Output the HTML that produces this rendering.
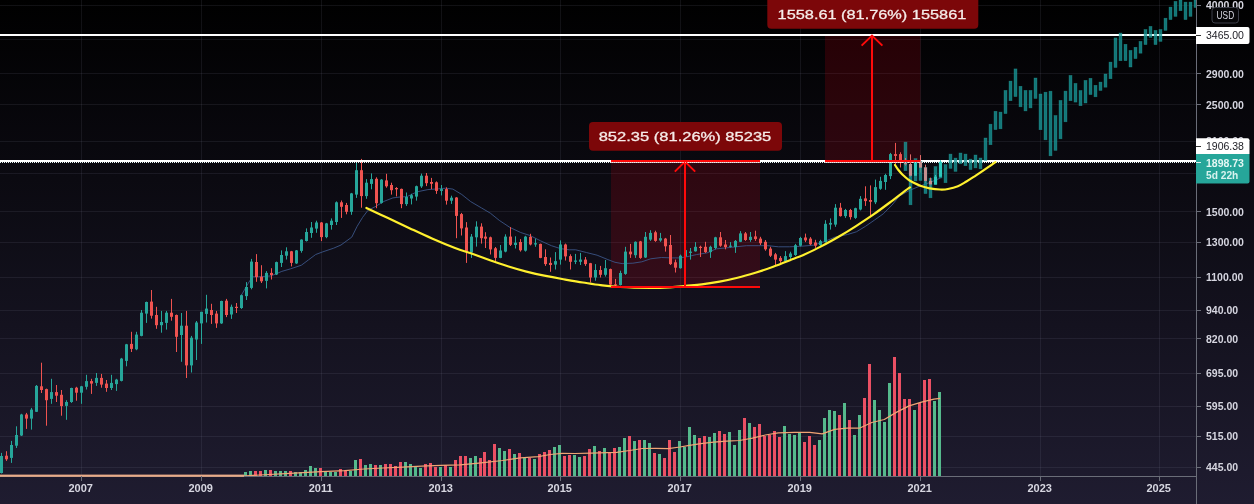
<!DOCTYPE html><html><head><meta charset="utf-8"><title>chart</title><style>html,body{margin:0;padding:0;background:#000;overflow:hidden}svg{display:block}svg{will-change:transform}</style></head><body><svg width="1254" height="504" viewBox="0 0 1254 504" font-family="Liberation Sans, sans-serif">
<defs><linearGradient id="bg" x1="0" y1="0" x2="0" y2="1"><stop offset="0" stop-color="#000000"/><stop offset="1" stop-color="#1f1c30"/></linearGradient><clipPath id="pane"><rect x="0" y="0" width="1196" height="476"/></clipPath></defs>
<rect width="1254" height="504" fill="url(#bg)"/>
<g fill="rgba(150,150,175,0.115)" shape-rendering="crispEdges">
<rect x="81" y="0" width="1" height="476"/>
<rect x="201" y="0" width="1" height="476"/>
<rect x="321" y="0" width="1" height="476"/>
<rect x="441" y="0" width="1" height="476"/>
<rect x="560" y="0" width="1" height="476"/>
<rect x="680" y="0" width="1" height="476"/>
<rect x="800" y="0" width="1" height="476"/>
<rect x="920" y="0" width="1" height="476"/>
<rect x="1040" y="0" width="1" height="476"/>
<rect x="1159" y="0" width="1" height="476"/>
<rect x="0" y="5" width="1196" height="1"/>
<rect x="0" y="39" width="1196" height="1"/>
<rect x="0" y="73" width="1196" height="1"/>
<rect x="0" y="104" width="1196" height="1"/>
<rect x="0" y="141" width="1196" height="1"/>
<rect x="0" y="173" width="1196" height="1"/>
<rect x="0" y="211" width="1196" height="1"/>
<rect x="0" y="242" width="1196" height="1"/>
<rect x="0" y="277" width="1196" height="1"/>
<rect x="0" y="310" width="1196" height="1"/>
<rect x="0" y="338" width="1196" height="1"/>
<rect x="0" y="373" width="1196" height="1"/>
<rect x="0" y="406" width="1196" height="1"/>
<rect x="0" y="436" width="1196" height="1"/>
<rect x="0" y="467" width="1196" height="1"/>
</g>
<g clip-path="url(#pane)">
<g shape-rendering="crispEdges">
<rect x="244" y="472.1" width="3" height="3.9" fill="#55b98c"/>
<rect x="249" y="470.8" width="3" height="5.2" fill="#55b98c"/>
<rect x="254" y="470.8" width="3" height="5.2" fill="#eb5064"/>
<rect x="259" y="470.8" width="3" height="5.2" fill="#eb5064"/>
<rect x="264" y="470.0" width="3" height="6.0" fill="#55b98c"/>
<rect x="269" y="470.0" width="3" height="6.0" fill="#eb5064"/>
<rect x="274" y="471.1" width="3" height="4.9" fill="#55b98c"/>
<rect x="279" y="470.8" width="3" height="5.2" fill="#55b98c"/>
<rect x="284" y="470.8" width="3" height="5.2" fill="#55b98c"/>
<rect x="289" y="470.8" width="3" height="5.2" fill="#eb5064"/>
<rect x="294" y="472.1" width="3" height="3.9" fill="#55b98c"/>
<rect x="299" y="472.1" width="3" height="3.9" fill="#55b98c"/>
<rect x="304" y="470.0" width="3" height="6.0" fill="#55b98c"/>
<rect x="309" y="465.8" width="3" height="10.2" fill="#55b98c"/>
<rect x="314" y="467.8" width="3" height="8.2" fill="#55b98c"/>
<rect x="319" y="467.8" width="3" height="8.2" fill="#eb5064"/>
<rect x="324" y="471.1" width="3" height="4.9" fill="#55b98c"/>
<rect x="329" y="471.6" width="3" height="4.4" fill="#55b98c"/>
<rect x="334" y="471.6" width="3" height="4.4" fill="#55b98c"/>
<rect x="339" y="469.0" width="3" height="7.0" fill="#eb5064"/>
<rect x="344" y="470.2" width="3" height="5.8" fill="#eb5064"/>
<rect x="349" y="470.6" width="3" height="5.4" fill="#55b98c"/>
<rect x="354" y="459.8" width="3" height="16.2" fill="#55b98c"/>
<rect x="359" y="458.9" width="3" height="17.1" fill="#eb5064"/>
<rect x="364" y="464.9" width="3" height="11.1" fill="#55b98c"/>
<rect x="369" y="463.9" width="3" height="12.1" fill="#55b98c"/>
<rect x="374" y="464.9" width="3" height="11.1" fill="#eb5064"/>
<rect x="379" y="464.9" width="3" height="11.1" fill="#55b98c"/>
<rect x="384" y="463.9" width="3" height="12.1" fill="#eb5064"/>
<rect x="389" y="463.9" width="3" height="12.1" fill="#eb5064"/>
<rect x="394" y="466.1" width="3" height="9.9" fill="#eb5064"/>
<rect x="399" y="461.8" width="3" height="14.2" fill="#eb5064"/>
<rect x="404" y="461.8" width="3" height="14.2" fill="#55b98c"/>
<rect x="409" y="463.9" width="3" height="12.1" fill="#55b98c"/>
<rect x="414" y="466.6" width="3" height="9.4" fill="#55b98c"/>
<rect x="419" y="468.0" width="3" height="8.0" fill="#55b98c"/>
<rect x="424" y="463.9" width="3" height="12.1" fill="#eb5064"/>
<rect x="429" y="462.9" width="3" height="13.1" fill="#eb5064"/>
<rect x="434" y="466.9" width="3" height="9.1" fill="#eb5064"/>
<rect x="439" y="466.9" width="3" height="9.1" fill="#55b98c"/>
<rect x="444" y="464.9" width="3" height="11.1" fill="#eb5064"/>
<rect x="449" y="466.9" width="3" height="9.1" fill="#55b98c"/>
<rect x="454" y="460.0" width="3" height="16.0" fill="#eb5064"/>
<rect x="459" y="456.0" width="3" height="20.0" fill="#eb5064"/>
<rect x="464" y="456.0" width="3" height="20.0" fill="#eb5064"/>
<rect x="469" y="458.1" width="3" height="17.9" fill="#55b98c"/>
<rect x="474" y="456.1" width="3" height="19.9" fill="#55b98c"/>
<rect x="479" y="458.1" width="3" height="17.9" fill="#eb5064"/>
<rect x="483" y="452.1" width="3" height="23.9" fill="#eb5064"/>
<rect x="488" y="460.2" width="3" height="15.8" fill="#eb5064"/>
<rect x="493" y="444.2" width="3" height="31.8" fill="#eb5064"/>
<rect x="498" y="448.2" width="3" height="27.8" fill="#55b98c"/>
<rect x="503" y="451.0" width="3" height="25.0" fill="#55b98c"/>
<rect x="508" y="449.2" width="3" height="26.8" fill="#eb5064"/>
<rect x="513" y="454.2" width="3" height="21.8" fill="#55b98c"/>
<rect x="518" y="453.3" width="3" height="22.7" fill="#eb5064"/>
<rect x="523" y="457.5" width="3" height="18.5" fill="#55b98c"/>
<rect x="528" y="457.5" width="3" height="18.5" fill="#eb5064"/>
<rect x="533" y="459.0" width="3" height="17.0" fill="#55b98c"/>
<rect x="538" y="454.2" width="3" height="21.8" fill="#eb5064"/>
<rect x="543" y="452.1" width="3" height="23.9" fill="#eb5064"/>
<rect x="548" y="450.1" width="3" height="25.9" fill="#eb5064"/>
<rect x="553" y="447.1" width="3" height="28.9" fill="#55b98c"/>
<rect x="558" y="445.2" width="3" height="30.8" fill="#55b98c"/>
<rect x="563" y="456.0" width="3" height="20.0" fill="#eb5064"/>
<rect x="568" y="455.0" width="3" height="21.0" fill="#eb5064"/>
<rect x="573" y="455.0" width="3" height="21.0" fill="#55b98c"/>
<rect x="578" y="456.9" width="3" height="19.1" fill="#55b98c"/>
<rect x="583" y="456.0" width="3" height="20.0" fill="#eb5064"/>
<rect x="588" y="448.9" width="3" height="27.1" fill="#eb5064"/>
<rect x="593" y="446.0" width="3" height="30.0" fill="#55b98c"/>
<rect x="598" y="451.1" width="3" height="24.9" fill="#eb5064"/>
<rect x="603" y="447.9" width="3" height="28.1" fill="#55b98c"/>
<rect x="608" y="452.0" width="3" height="24.0" fill="#eb5064"/>
<rect x="613" y="447.9" width="3" height="28.1" fill="#eb5064"/>
<rect x="618" y="447.0" width="3" height="29.0" fill="#55b98c"/>
<rect x="623" y="438.0" width="3" height="38.0" fill="#55b98c"/>
<rect x="628" y="436.0" width="3" height="40.0" fill="#eb5064"/>
<rect x="633" y="441.1" width="3" height="34.9" fill="#55b98c"/>
<rect x="638" y="440.2" width="3" height="35.8" fill="#eb5064"/>
<rect x="643" y="440.2" width="3" height="35.8" fill="#55b98c"/>
<rect x="648" y="443.0" width="3" height="33.0" fill="#55b98c"/>
<rect x="653" y="453.1" width="3" height="22.9" fill="#eb5064"/>
<rect x="658" y="454.1" width="3" height="21.9" fill="#55b98c"/>
<rect x="663" y="458.0" width="3" height="18.0" fill="#eb5064"/>
<rect x="668" y="440.2" width="3" height="35.8" fill="#eb5064"/>
<rect x="673" y="452.0" width="3" height="24.0" fill="#eb5064"/>
<rect x="678" y="441.1" width="3" height="34.9" fill="#55b98c"/>
<rect x="683" y="447.0" width="3" height="29.0" fill="#55b98c"/>
<rect x="688" y="427.0" width="3" height="49.0" fill="#55b98c"/>
<rect x="693" y="435.0" width="3" height="41.0" fill="#55b98c"/>
<rect x="698" y="438.0" width="3" height="38.0" fill="#eb5064"/>
<rect x="703" y="436.0" width="3" height="40.0" fill="#eb5064"/>
<rect x="708" y="436.9" width="3" height="39.1" fill="#55b98c"/>
<rect x="713" y="433.1" width="3" height="42.9" fill="#55b98c"/>
<rect x="718" y="431.1" width="3" height="44.9" fill="#eb5064"/>
<rect x="723" y="434.1" width="3" height="41.9" fill="#eb5064"/>
<rect x="728" y="432.0" width="3" height="44.0" fill="#55b98c"/>
<rect x="733" y="445.1" width="3" height="30.9" fill="#55b98c"/>
<rect x="738" y="430.1" width="3" height="45.9" fill="#55b98c"/>
<rect x="743" y="417.8" width="3" height="58.2" fill="#eb5064"/>
<rect x="748" y="423.0" width="3" height="53.0" fill="#55b98c"/>
<rect x="753" y="427.0" width="3" height="49.0" fill="#eb5064"/>
<rect x="758" y="424.0" width="3" height="52.0" fill="#eb5064"/>
<rect x="763" y="436.0" width="3" height="40.0" fill="#eb5064"/>
<rect x="768" y="435.0" width="3" height="41.0" fill="#eb5064"/>
<rect x="773" y="431.1" width="3" height="44.9" fill="#eb5064"/>
<rect x="778" y="436.9" width="3" height="39.1" fill="#eb5064"/>
<rect x="783" y="426.0" width="3" height="50.0" fill="#55b98c"/>
<rect x="788" y="434.2" width="3" height="41.8" fill="#55b98c"/>
<rect x="793" y="435.0" width="3" height="41.0" fill="#55b98c"/>
<rect x="798" y="433.2" width="3" height="42.8" fill="#55b98c"/>
<rect x="803" y="442.3" width="3" height="33.7" fill="#eb5064"/>
<rect x="808" y="436.4" width="3" height="39.6" fill="#eb5064"/>
<rect x="813" y="445.1" width="3" height="30.9" fill="#eb5064"/>
<rect x="818" y="440.1" width="3" height="35.9" fill="#55b98c"/>
<rect x="823" y="418.3" width="3" height="57.7" fill="#55b98c"/>
<rect x="828" y="410.1" width="3" height="65.9" fill="#55b98c"/>
<rect x="833" y="411.3" width="3" height="64.7" fill="#55b98c"/>
<rect x="838" y="415.0" width="3" height="61.0" fill="#eb5064"/>
<rect x="843" y="402.9" width="3" height="73.1" fill="#55b98c"/>
<rect x="848" y="420.0" width="3" height="56.0" fill="#eb5064"/>
<rect x="853" y="434.9" width="3" height="41.1" fill="#55b98c"/>
<rect x="858" y="415.0" width="3" height="61.0" fill="#55b98c"/>
<rect x="863" y="397.9" width="3" height="78.1" fill="#eb5064"/>
<rect x="868" y="364.2" width="3" height="111.8" fill="#eb5064"/>
<rect x="873" y="400.2" width="3" height="75.8" fill="#55b98c"/>
<rect x="878" y="410.1" width="3" height="65.9" fill="#55b98c"/>
<rect x="883" y="422.0" width="3" height="54.0" fill="#55b98c"/>
<rect x="888" y="383.0" width="3" height="93.0" fill="#55b98c"/>
<rect x="893" y="357.0" width="3" height="119.0" fill="#eb5064"/>
<rect x="898" y="372.9" width="3" height="103.1" fill="#eb5064"/>
<rect x="903" y="399.2" width="3" height="76.8" fill="#eb5064"/>
<rect x="908" y="399.2" width="3" height="76.8" fill="#eb5064"/>
<rect x="913" y="410.1" width="3" height="65.9" fill="#55b98c"/>
<rect x="918" y="403.4" width="3" height="72.6" fill="#eb5064"/>
<rect x="923" y="379.8" width="3" height="96.2" fill="#eb5064"/>
<rect x="928" y="379.1" width="3" height="96.9" fill="#eb5064"/>
<rect x="933" y="400.9" width="3" height="75.1" fill="#55b98c"/>
<rect x="938" y="392.2" width="3" height="83.8" fill="#55b98c"/>
</g>
<polyline fill="none" stroke="#f0a474" stroke-width="1.25" stroke-linejoin="round" points="0,476 243,476 260,475 290,473.3 321,471.6 345,470.7 364,469 383,468 402.4,467.1 421.6,466.1 440.7,465.4 460,464.9 478.8,463.1 502.6,460.5 520.5,457.9 538.3,456.7 550.2,454.5 562.1,453.4 575,453.5 590.8,453.1 616.6,452.4 629.5,450.5 642.4,448.5 655.3,448.3 668.2,448.6 680,447 687.9,445.7 700.8,443.6 713.7,442.1 726.6,441.1 739.5,440.5 752.4,438.2 765.3,435 778.2,432.8 795,432.4 809.8,432.4 822.2,433.9 834.6,429.4 847,428.2 859.4,428.2 871.8,422.5 884.3,419.5 896.7,412.1 909.1,405.9 921.5,402.1 933.9,399.2 940.1,398.4"/>
<rect x="611" y="161" width="149" height="126" fill="rgba(255,0,20,0.145)"/>
<rect x="825" y="35" width="95.5" height="126" fill="rgba(255,0,20,0.145)"/>
<polyline fill="none" stroke="#3b5486" stroke-width="1" stroke-opacity="0.9" stroke-linejoin="round" points="240.7,296.4 247.9,283.9 252.3,276.8 258.6,276.8 271.1,275.9 281.8,271.4 290.7,268.8 301.4,265.2 308.6,259.8 315.7,254.5 322.9,251.8 333.6,248.2 341,245 351.8,237.1 357.1,226.4 362.5,217.5 367.9,210.4 375,206.8 383.9,201.4 392.9,197.9 400,197 407,196.6 417.1,191.8 427.9,189.6 438.6,188.8 445.7,188.2 452.9,189.1 461.8,194.5 470.7,201.6 481.4,207.9 490.4,213.2 499.3,220.4 510,227.5 520.7,232.5 530,235.5 540.7,240.9 551.4,245.7 560.4,248.6 569.3,249.8 575.7,249.8 586.4,252.5 597.1,255.2 607.9,259.6 615,262.3 622.1,263.6 632.9,263.2 641.8,261.8 650.7,258.8 661.4,257.5 672.1,257.9 679.3,257.9 685.7,257 696.4,254.6 707.1,252.9 716.1,248.9 725,248 735.7,246.8 746.4,245.7 758.9,245.7 767.9,245.7 778.6,246.8 789.3,246.8 799.3,246.4 813.6,245.2 824.3,241.6 835,237.1 847.5,234.5 856.4,231.8 865.4,226.4 874.3,220.2 883.2,213.9 892.1,205 899.3,196.1 909,190.6 920,186 929.6,182.6 940.7,177.9"/>
<g>
<rect x="1" y="452.9" width="1" height="20.6" fill="#26a69a"/>
<rect x="0" y="456.0" width="3" height="17.0" fill="#26a69a"/>
<rect x="6" y="451.2" width="1" height="9.7" fill="#ef5350"/>
<rect x="5" y="455.7" width="3" height="3.6" fill="#ef5350"/>
<rect x="11" y="440.9" width="1" height="22.0" fill="#26a69a"/>
<rect x="10" y="445.0" width="3" height="12.9" fill="#26a69a"/>
<rect x="16" y="426.3" width="1" height="21.7" fill="#26a69a"/>
<rect x="15" y="435.0" width="3" height="10.7" fill="#26a69a"/>
<rect x="21" y="413.8" width="1" height="22.2" fill="#26a69a"/>
<rect x="20" y="414.5" width="3" height="21.0" fill="#26a69a"/>
<rect x="26" y="412.9" width="1" height="16.0" fill="#ef5350"/>
<rect x="25" y="414.5" width="3" height="4.1" fill="#ef5350"/>
<rect x="31" y="407.9" width="1" height="21.7" fill="#26a69a"/>
<rect x="30" y="409.6" width="3" height="9.0" fill="#26a69a"/>
<rect x="36" y="385.0" width="1" height="27.0" fill="#26a69a"/>
<rect x="35" y="385.9" width="3" height="25.9" fill="#26a69a"/>
<rect x="41" y="362.7" width="1" height="30.3" fill="#ef5350"/>
<rect x="40" y="386.3" width="3" height="3.7" fill="#ef5350"/>
<rect x="46" y="388.6" width="1" height="37.1" fill="#ef5350"/>
<rect x="45" y="389.1" width="3" height="11.1" fill="#ef5350"/>
<rect x="51" y="378.8" width="1" height="25.0" fill="#26a69a"/>
<rect x="50" y="392.1" width="3" height="6.8" fill="#26a69a"/>
<rect x="56" y="385.0" width="1" height="17.0" fill="#ef5350"/>
<rect x="55" y="392.1" width="3" height="3.6" fill="#ef5350"/>
<rect x="61" y="390.0" width="1" height="25.7" fill="#ef5350"/>
<rect x="60" y="394.8" width="3" height="11.3" fill="#ef5350"/>
<rect x="66" y="400.2" width="1" height="19.6" fill="#26a69a"/>
<rect x="65" y="402.0" width="3" height="3.9" fill="#26a69a"/>
<rect x="71" y="387.7" width="1" height="15.2" fill="#26a69a"/>
<rect x="70" y="388.0" width="3" height="14.0" fill="#26a69a"/>
<rect x="76" y="386.8" width="1" height="13.9" fill="#ef5350"/>
<rect x="75" y="387.7" width="3" height="5.0" fill="#ef5350"/>
<rect x="81" y="385.9" width="1" height="17.9" fill="#26a69a"/>
<rect x="80" y="386.3" width="3" height="6.4" fill="#26a69a"/>
<rect x="86" y="374.8" width="1" height="14.7" fill="#26a69a"/>
<rect x="85" y="381.1" width="3" height="5.7" fill="#26a69a"/>
<rect x="91" y="378.8" width="1" height="15.1" fill="#ef5350"/>
<rect x="90" y="381.1" width="3" height="2.5" fill="#ef5350"/>
<rect x="96" y="373.0" width="1" height="12.9" fill="#26a69a"/>
<rect x="95" y="377.9" width="3" height="5.0" fill="#26a69a"/>
<rect x="101" y="373.9" width="1" height="13.8" fill="#ef5350"/>
<rect x="100" y="377.9" width="3" height="6.7" fill="#ef5350"/>
<rect x="106" y="380.0" width="1" height="11.8" fill="#ef5350"/>
<rect x="105" y="383.6" width="3" height="4.4" fill="#ef5350"/>
<rect x="111" y="374.8" width="1" height="15.2" fill="#26a69a"/>
<rect x="110" y="382.9" width="3" height="5.1" fill="#26a69a"/>
<rect x="116" y="378.8" width="1" height="12.1" fill="#26a69a"/>
<rect x="115" y="379.6" width="3" height="4.5" fill="#26a69a"/>
<rect x="121" y="357.9" width="1" height="23.5" fill="#26a69a"/>
<rect x="120" y="358.6" width="3" height="22.3" fill="#26a69a"/>
<rect x="126" y="343.9" width="1" height="22.4" fill="#26a69a"/>
<rect x="125" y="344.3" width="3" height="16.6" fill="#26a69a"/>
<rect x="131" y="331.8" width="1" height="20.2" fill="#ef5350"/>
<rect x="130" y="343.9" width="3" height="5.0" fill="#ef5350"/>
<rect x="136" y="331.8" width="1" height="18.4" fill="#26a69a"/>
<rect x="135" y="334.6" width="3" height="14.7" fill="#26a69a"/>
<rect x="141" y="310.0" width="1" height="26.3" fill="#26a69a"/>
<rect x="140" y="312.7" width="3" height="23.2" fill="#26a69a"/>
<rect x="146" y="301.6" width="1" height="21.3" fill="#26a69a"/>
<rect x="145" y="302.0" width="3" height="11.6" fill="#26a69a"/>
<rect x="151" y="290.0" width="1" height="28.6" fill="#ef5350"/>
<rect x="150" y="301.6" width="3" height="14.1" fill="#ef5350"/>
<rect x="156" y="306.8" width="1" height="22.0" fill="#ef5350"/>
<rect x="155" y="315.0" width="3" height="10.2" fill="#ef5350"/>
<rect x="161" y="310.9" width="1" height="21.8" fill="#26a69a"/>
<rect x="160" y="322.0" width="3" height="3.2" fill="#26a69a"/>
<rect x="166" y="310.9" width="1" height="18.7" fill="#26a69a"/>
<rect x="165" y="312.7" width="3" height="10.2" fill="#26a69a"/>
<rect x="171" y="298.9" width="1" height="21.8" fill="#ef5350"/>
<rect x="170" y="312.7" width="3" height="4.1" fill="#ef5350"/>
<rect x="176" y="314.5" width="1" height="37.5" fill="#ef5350"/>
<rect x="175" y="315.0" width="3" height="21.8" fill="#ef5350"/>
<rect x="181" y="313.0" width="1" height="48.8" fill="#26a69a"/>
<rect x="180" y="325.7" width="3" height="9.3" fill="#26a69a"/>
<rect x="186" y="310.9" width="1" height="67.1" fill="#ef5350"/>
<rect x="185" y="325.7" width="3" height="39.7" fill="#ef5350"/>
<rect x="191" y="335.9" width="1" height="36.6" fill="#26a69a"/>
<rect x="190" y="337.7" width="3" height="27.7" fill="#26a69a"/>
<rect x="196" y="321.0" width="1" height="39.0" fill="#26a69a"/>
<rect x="195" y="322.5" width="3" height="17.0" fill="#26a69a"/>
<rect x="201" y="311.8" width="1" height="32.1" fill="#26a69a"/>
<rect x="200" y="311.8" width="3" height="11.6" fill="#26a69a"/>
<rect x="206" y="294.8" width="1" height="27.7" fill="#26a69a"/>
<rect x="205" y="308.6" width="3" height="5.3" fill="#26a69a"/>
<rect x="211" y="303.8" width="1" height="20.1" fill="#ef5350"/>
<rect x="210" y="310.0" width="3" height="5.0" fill="#ef5350"/>
<rect x="216" y="310.9" width="1" height="17.0" fill="#ef5350"/>
<rect x="215" y="313.6" width="3" height="9.8" fill="#ef5350"/>
<rect x="221" y="300.7" width="1" height="23.2" fill="#26a69a"/>
<rect x="220" y="301.0" width="3" height="22.4" fill="#26a69a"/>
<rect x="226" y="298.9" width="1" height="18.2" fill="#ef5350"/>
<rect x="225" y="300.7" width="3" height="14.3" fill="#ef5350"/>
<rect x="231" y="304.6" width="1" height="14.3" fill="#26a69a"/>
<rect x="230" y="306.8" width="3" height="7.7" fill="#26a69a"/>
<rect x="236" y="303.0" width="1" height="10.0" fill="#ef5350"/>
<rect x="235" y="306.8" width="3" height="1.2" fill="#ef5350"/>
<rect x="241" y="294.6" width="1" height="14.3" fill="#26a69a"/>
<rect x="240" y="295.2" width="3" height="12.8" fill="#26a69a"/>
<rect x="246" y="282.1" width="1" height="17.9" fill="#26a69a"/>
<rect x="245" y="287.0" width="3" height="9.1" fill="#26a69a"/>
<rect x="251" y="258.9" width="1" height="30.4" fill="#26a69a"/>
<rect x="250" y="261.6" width="3" height="26.3" fill="#26a69a"/>
<rect x="256" y="254.1" width="1" height="27.7" fill="#ef5350"/>
<rect x="255" y="262.0" width="3" height="15.1" fill="#ef5350"/>
<rect x="261" y="265.2" width="1" height="17.8" fill="#ef5350"/>
<rect x="260" y="276.8" width="3" height="4.5" fill="#ef5350"/>
<rect x="266" y="271.1" width="1" height="17.3" fill="#26a69a"/>
<rect x="265" y="272.9" width="3" height="8.0" fill="#26a69a"/>
<rect x="271" y="268.2" width="1" height="11.3" fill="#ef5350"/>
<rect x="270" y="272.9" width="3" height="2.1" fill="#ef5350"/>
<rect x="276" y="261.6" width="1" height="13.4" fill="#26a69a"/>
<rect x="275" y="262.1" width="3" height="12.4" fill="#26a69a"/>
<rect x="281" y="250.4" width="1" height="16.6" fill="#26a69a"/>
<rect x="280" y="255.0" width="3" height="7.9" fill="#26a69a"/>
<rect x="286" y="247.3" width="1" height="12.2" fill="#26a69a"/>
<rect x="285" y="251.3" width="3" height="4.4" fill="#26a69a"/>
<rect x="291" y="250.9" width="1" height="15.5" fill="#ef5350"/>
<rect x="290" y="251.3" width="3" height="11.6" fill="#ef5350"/>
<rect x="296" y="250.0" width="1" height="13.9" fill="#26a69a"/>
<rect x="295" y="250.4" width="3" height="13.0" fill="#26a69a"/>
<rect x="301" y="239.3" width="1" height="13.4" fill="#26a69a"/>
<rect x="300" y="239.6" width="3" height="11.3" fill="#26a69a"/>
<rect x="306" y="228.4" width="1" height="13.1" fill="#26a69a"/>
<rect x="305" y="232.0" width="3" height="9.0" fill="#26a69a"/>
<rect x="311" y="222.0" width="1" height="15.8" fill="#26a69a"/>
<rect x="310" y="227.5" width="3" height="5.5" fill="#26a69a"/>
<rect x="316" y="220.7" width="1" height="12.1" fill="#26a69a"/>
<rect x="315" y="222.5" width="3" height="6.1" fill="#26a69a"/>
<rect x="321" y="222.0" width="1" height="19.1" fill="#ef5350"/>
<rect x="320" y="222.5" width="3" height="14.6" fill="#ef5350"/>
<rect x="326" y="222.9" width="1" height="15.3" fill="#26a69a"/>
<rect x="325" y="223.4" width="3" height="13.7" fill="#26a69a"/>
<rect x="331" y="218.4" width="1" height="11.2" fill="#26a69a"/>
<rect x="330" y="220.7" width="3" height="4.3" fill="#26a69a"/>
<rect x="336" y="201.4" width="1" height="23.6" fill="#26a69a"/>
<rect x="335" y="202.3" width="3" height="19.7" fill="#26a69a"/>
<rect x="341" y="200.5" width="1" height="17.4" fill="#ef5350"/>
<rect x="340" y="202.3" width="3" height="4.5" fill="#ef5350"/>
<rect x="346" y="202.9" width="1" height="11.4" fill="#ef5350"/>
<rect x="345" y="205.0" width="3" height="6.8" fill="#ef5350"/>
<rect x="351" y="192.9" width="1" height="21.9" fill="#26a69a"/>
<rect x="350" y="193.4" width="3" height="18.4" fill="#26a69a"/>
<rect x="356" y="162.1" width="1" height="35.8" fill="#26a69a"/>
<rect x="355" y="170.2" width="3" height="24.4" fill="#26a69a"/>
<rect x="361" y="158.9" width="1" height="48.8" fill="#ef5350"/>
<rect x="360" y="170.2" width="3" height="25.9" fill="#ef5350"/>
<rect x="366" y="179.1" width="1" height="19.7" fill="#26a69a"/>
<rect x="365" y="182.7" width="3" height="13.4" fill="#26a69a"/>
<rect x="371" y="173.4" width="1" height="15.9" fill="#26a69a"/>
<rect x="370" y="179.1" width="3" height="4.8" fill="#26a69a"/>
<rect x="376" y="177.3" width="1" height="30.9" fill="#ef5350"/>
<rect x="375" y="178.8" width="3" height="24.4" fill="#ef5350"/>
<rect x="381" y="179.1" width="1" height="24.5" fill="#26a69a"/>
<rect x="380" y="179.6" width="3" height="23.3" fill="#26a69a"/>
<rect x="386" y="173.8" width="1" height="13.9" fill="#ef5350"/>
<rect x="385" y="180.4" width="3" height="5.9" fill="#ef5350"/>
<rect x="391" y="182.7" width="1" height="11.9" fill="#ef5350"/>
<rect x="390" y="185.0" width="3" height="5.2" fill="#ef5350"/>
<rect x="396" y="187.1" width="1" height="9.3" fill="#ef5350"/>
<rect x="395" y="188.0" width="3" height="1.3" fill="#ef5350"/>
<rect x="401" y="188.6" width="1" height="19.6" fill="#ef5350"/>
<rect x="400" y="188.9" width="3" height="15.2" fill="#ef5350"/>
<rect x="406" y="192.5" width="1" height="13.4" fill="#26a69a"/>
<rect x="405" y="197.0" width="3" height="7.1" fill="#26a69a"/>
<rect x="411" y="193.8" width="1" height="10.6" fill="#26a69a"/>
<rect x="410" y="195.2" width="3" height="3.3" fill="#26a69a"/>
<rect x="416" y="185.6" width="1" height="15.0" fill="#26a69a"/>
<rect x="415" y="186.2" width="3" height="10.4" fill="#26a69a"/>
<rect x="421" y="173.6" width="1" height="14.3" fill="#26a69a"/>
<rect x="420" y="175.7" width="3" height="10.7" fill="#26a69a"/>
<rect x="426" y="173.0" width="1" height="13.1" fill="#ef5350"/>
<rect x="425" y="175.7" width="3" height="7.5" fill="#ef5350"/>
<rect x="431" y="177.9" width="1" height="11.2" fill="#ef5350"/>
<rect x="430" y="182.0" width="3" height="1.8" fill="#ef5350"/>
<rect x="436" y="181.4" width="1" height="12.5" fill="#ef5350"/>
<rect x="435" y="182.3" width="3" height="8.6" fill="#ef5350"/>
<rect x="441" y="185.0" width="1" height="10.4" fill="#26a69a"/>
<rect x="440" y="189.1" width="3" height="1.8" fill="#26a69a"/>
<rect x="446" y="187.3" width="1" height="17.3" fill="#ef5350"/>
<rect x="445" y="189.1" width="3" height="11.6" fill="#ef5350"/>
<rect x="451" y="195.7" width="1" height="8.2" fill="#26a69a"/>
<rect x="450" y="197.7" width="3" height="3.0" fill="#26a69a"/>
<rect x="456" y="197.1" width="1" height="41.1" fill="#ef5350"/>
<rect x="455" y="197.5" width="3" height="18.4" fill="#ef5350"/>
<rect x="461" y="212.9" width="1" height="22.6" fill="#ef5350"/>
<rect x="460" y="214.1" width="3" height="14.3" fill="#ef5350"/>
<rect x="466" y="222.1" width="1" height="40.8" fill="#ef5350"/>
<rect x="465" y="227.5" width="3" height="24.1" fill="#ef5350"/>
<rect x="471" y="234.0" width="1" height="23.9" fill="#26a69a"/>
<rect x="470" y="236.6" width="3" height="15.9" fill="#26a69a"/>
<rect x="476" y="221.3" width="1" height="25.3" fill="#26a69a"/>
<rect x="475" y="226.6" width="3" height="10.7" fill="#26a69a"/>
<rect x="481" y="223.3" width="1" height="20.3" fill="#ef5350"/>
<rect x="480" y="226.6" width="3" height="11.6" fill="#ef5350"/>
<rect x="485" y="232.2" width="1" height="15.8" fill="#ef5350"/>
<rect x="484" y="236.6" width="3" height="2.1" fill="#ef5350"/>
<rect x="490" y="236.6" width="1" height="17.9" fill="#ef5350"/>
<rect x="489" y="237.3" width="3" height="12.1" fill="#ef5350"/>
<rect x="495" y="247.0" width="1" height="14.1" fill="#ef5350"/>
<rect x="494" y="248.3" width="3" height="9.6" fill="#ef5350"/>
<rect x="500" y="245.0" width="1" height="13.2" fill="#26a69a"/>
<rect x="499" y="250.5" width="3" height="7.4" fill="#26a69a"/>
<rect x="505" y="234.3" width="1" height="18.0" fill="#26a69a"/>
<rect x="504" y="236.6" width="3" height="15.0" fill="#26a69a"/>
<rect x="510" y="227.1" width="1" height="18.9" fill="#ef5350"/>
<rect x="509" y="236.6" width="3" height="8.2" fill="#ef5350"/>
<rect x="515" y="236.3" width="1" height="12.2" fill="#26a69a"/>
<rect x="514" y="242.7" width="3" height="2.3" fill="#26a69a"/>
<rect x="520" y="239.1" width="1" height="12.5" fill="#ef5350"/>
<rect x="519" y="242.0" width="3" height="8.3" fill="#ef5350"/>
<rect x="525" y="235.8" width="1" height="15.8" fill="#26a69a"/>
<rect x="524" y="236.6" width="3" height="14.1" fill="#26a69a"/>
<rect x="530" y="233.8" width="1" height="11.6" fill="#ef5350"/>
<rect x="529" y="236.8" width="3" height="7.7" fill="#ef5350"/>
<rect x="535" y="238.6" width="1" height="8.2" fill="#26a69a"/>
<rect x="534" y="243.2" width="3" height="1.3" fill="#26a69a"/>
<rect x="540" y="243.6" width="1" height="14.6" fill="#ef5350"/>
<rect x="539" y="243.9" width="3" height="14.0" fill="#ef5350"/>
<rect x="545" y="249.3" width="1" height="16.6" fill="#ef5350"/>
<rect x="544" y="257.0" width="3" height="7.1" fill="#ef5350"/>
<rect x="550" y="257.5" width="1" height="14.3" fill="#ef5350"/>
<rect x="549" y="262.9" width="3" height="2.1" fill="#ef5350"/>
<rect x="555" y="252.1" width="1" height="17.4" fill="#26a69a"/>
<rect x="554" y="261.1" width="3" height="3.5" fill="#26a69a"/>
<rect x="560" y="240.4" width="1" height="24.2" fill="#26a69a"/>
<rect x="559" y="244.5" width="3" height="15.1" fill="#26a69a"/>
<rect x="565" y="243.6" width="1" height="16.9" fill="#ef5350"/>
<rect x="564" y="244.5" width="3" height="11.9" fill="#ef5350"/>
<rect x="570" y="254.3" width="1" height="15.2" fill="#ef5350"/>
<rect x="569" y="256.1" width="3" height="5.7" fill="#ef5350"/>
<rect x="575" y="253.9" width="1" height="10.2" fill="#26a69a"/>
<rect x="574" y="260.5" width="3" height="1.3" fill="#26a69a"/>
<rect x="580" y="252.9" width="1" height="12.1" fill="#26a69a"/>
<rect x="579" y="259.6" width="3" height="2.2" fill="#26a69a"/>
<rect x="585" y="257.0" width="1" height="8.9" fill="#ef5350"/>
<rect x="584" y="259.6" width="3" height="4.5" fill="#ef5350"/>
<rect x="590" y="262.9" width="1" height="19.6" fill="#ef5350"/>
<rect x="589" y="263.2" width="3" height="14.3" fill="#ef5350"/>
<rect x="595" y="264.1" width="1" height="16.6" fill="#26a69a"/>
<rect x="594" y="270.0" width="3" height="7.5" fill="#26a69a"/>
<rect x="600" y="265.9" width="1" height="11.6" fill="#ef5350"/>
<rect x="599" y="270.0" width="3" height="4.8" fill="#ef5350"/>
<rect x="605" y="260.0" width="1" height="16.6" fill="#26a69a"/>
<rect x="604" y="268.2" width="3" height="6.6" fill="#26a69a"/>
<rect x="610" y="268.6" width="1" height="16.9" fill="#ef5350"/>
<rect x="609" y="269.1" width="3" height="15.5" fill="#ef5350"/>
<rect x="615" y="278.9" width="1" height="7.5" fill="#ef5350"/>
<rect x="614" y="284.3" width="3" height="1.2" fill="#ef5350"/>
<rect x="620" y="270.7" width="1" height="14.8" fill="#26a69a"/>
<rect x="619" y="273.0" width="3" height="12.0" fill="#26a69a"/>
<rect x="625" y="246.8" width="1" height="28.0" fill="#26a69a"/>
<rect x="624" y="251.6" width="3" height="22.3" fill="#26a69a"/>
<rect x="630" y="243.9" width="1" height="14.0" fill="#ef5350"/>
<rect x="629" y="251.6" width="3" height="2.7" fill="#ef5350"/>
<rect x="635" y="241.4" width="1" height="16.5" fill="#26a69a"/>
<rect x="634" y="241.8" width="3" height="13.4" fill="#26a69a"/>
<rect x="640" y="240.9" width="1" height="17.9" fill="#ef5350"/>
<rect x="639" y="241.4" width="3" height="16.5" fill="#ef5350"/>
<rect x="645" y="232.0" width="1" height="25.9" fill="#26a69a"/>
<rect x="644" y="236.8" width="3" height="20.7" fill="#26a69a"/>
<rect x="650" y="230.2" width="1" height="10.7" fill="#26a69a"/>
<rect x="649" y="232.9" width="3" height="6.7" fill="#26a69a"/>
<rect x="655" y="230.7" width="1" height="11.1" fill="#ef5350"/>
<rect x="654" y="232.3" width="3" height="8.6" fill="#ef5350"/>
<rect x="660" y="232.9" width="1" height="8.9" fill="#26a69a"/>
<rect x="659" y="238.2" width="3" height="2.3" fill="#26a69a"/>
<rect x="665" y="237.9" width="1" height="13.7" fill="#ef5350"/>
<rect x="664" y="238.6" width="3" height="7.7" fill="#ef5350"/>
<rect x="670" y="235.0" width="1" height="30.0" fill="#ef5350"/>
<rect x="669" y="245.0" width="3" height="19.1" fill="#ef5350"/>
<rect x="675" y="259.6" width="1" height="12.9" fill="#ef5350"/>
<rect x="674" y="262.3" width="3" height="5.4" fill="#ef5350"/>
<rect x="680" y="254.6" width="1" height="14.0" fill="#26a69a"/>
<rect x="679" y="255.7" width="3" height="12.5" fill="#26a69a"/>
<rect x="685" y="247.4" width="1" height="10.1" fill="#26a69a"/>
<rect x="684" y="250.1" width="3" height="6.5" fill="#26a69a"/>
<rect x="690" y="248.0" width="1" height="11.6" fill="#26a69a"/>
<rect x="689" y="251.6" width="3" height="1.3" fill="#26a69a"/>
<rect x="695" y="242.1" width="1" height="9.5" fill="#26a69a"/>
<rect x="694" y="246.8" width="3" height="4.5" fill="#26a69a"/>
<rect x="700" y="245.7" width="1" height="11.3" fill="#ef5350"/>
<rect x="699" y="246.8" width="3" height="1.2" fill="#ef5350"/>
<rect x="705" y="241.8" width="1" height="11.1" fill="#ef5350"/>
<rect x="704" y="246.8" width="3" height="5.3" fill="#ef5350"/>
<rect x="710" y="245.7" width="1" height="12.2" fill="#26a69a"/>
<rect x="709" y="246.8" width="3" height="5.3" fill="#26a69a"/>
<rect x="715" y="236.8" width="1" height="12.5" fill="#26a69a"/>
<rect x="714" y="237.3" width="3" height="10.7" fill="#26a69a"/>
<rect x="720" y="232.0" width="1" height="14.8" fill="#ef5350"/>
<rect x="719" y="237.3" width="3" height="8.4" fill="#ef5350"/>
<rect x="725" y="240.0" width="1" height="9.3" fill="#ef5350"/>
<rect x="724" y="244.5" width="3" height="2.6" fill="#ef5350"/>
<rect x="730" y="242.1" width="1" height="5.4" fill="#26a69a"/>
<rect x="729" y="245.7" width="3" height="1.1" fill="#26a69a"/>
<rect x="735" y="240.0" width="1" height="12.9" fill="#26a69a"/>
<rect x="734" y="240.9" width="3" height="6.2" fill="#26a69a"/>
<rect x="740" y="231.1" width="1" height="11.0" fill="#26a69a"/>
<rect x="739" y="233.4" width="3" height="8.4" fill="#26a69a"/>
<rect x="745" y="232.0" width="1" height="8.9" fill="#ef5350"/>
<rect x="744" y="233.4" width="3" height="6.6" fill="#ef5350"/>
<rect x="750" y="232.0" width="1" height="9.8" fill="#26a69a"/>
<rect x="749" y="236.8" width="3" height="3.2" fill="#26a69a"/>
<rect x="755" y="230.7" width="1" height="10.2" fill="#ef5350"/>
<rect x="754" y="236.4" width="3" height="2.7" fill="#ef5350"/>
<rect x="760" y="236.8" width="1" height="8.2" fill="#ef5350"/>
<rect x="759" y="238.6" width="3" height="4.6" fill="#ef5350"/>
<rect x="765" y="240.0" width="1" height="10.7" fill="#ef5350"/>
<rect x="764" y="241.8" width="3" height="7.5" fill="#ef5350"/>
<rect x="770" y="246.8" width="1" height="10.2" fill="#ef5350"/>
<rect x="769" y="248.6" width="3" height="7.1" fill="#ef5350"/>
<rect x="775" y="252.9" width="1" height="12.1" fill="#ef5350"/>
<rect x="774" y="254.3" width="3" height="5.3" fill="#ef5350"/>
<rect x="780" y="256.1" width="1" height="6.8" fill="#ef5350"/>
<rect x="779" y="257.9" width="3" height="3.2" fill="#ef5350"/>
<rect x="785" y="251.1" width="1" height="10.7" fill="#26a69a"/>
<rect x="784" y="256.1" width="3" height="5.0" fill="#26a69a"/>
<rect x="790" y="251.7" width="1" height="8.5" fill="#26a69a"/>
<rect x="789" y="253.5" width="3" height="3.5" fill="#26a69a"/>
<rect x="795" y="243.9" width="1" height="12.0" fill="#26a69a"/>
<rect x="794" y="245.2" width="3" height="9.8" fill="#26a69a"/>
<rect x="800" y="236.8" width="1" height="9.6" fill="#26a69a"/>
<rect x="799" y="238.0" width="3" height="7.7" fill="#26a69a"/>
<rect x="805" y="233.6" width="1" height="8.5" fill="#ef5350"/>
<rect x="804" y="237.5" width="3" height="2.9" fill="#ef5350"/>
<rect x="810" y="237.1" width="1" height="8.1" fill="#ef5350"/>
<rect x="809" y="238.6" width="3" height="5.7" fill="#ef5350"/>
<rect x="815" y="239.8" width="1" height="8.1" fill="#ef5350"/>
<rect x="814" y="242.5" width="3" height="3.2" fill="#ef5350"/>
<rect x="820" y="239.8" width="1" height="6.3" fill="#26a69a"/>
<rect x="819" y="241.1" width="3" height="4.1" fill="#26a69a"/>
<rect x="825" y="220.2" width="1" height="22.3" fill="#26a69a"/>
<rect x="824" y="223.8" width="3" height="18.3" fill="#26a69a"/>
<rect x="830" y="218.4" width="1" height="11.2" fill="#26a69a"/>
<rect x="829" y="222.9" width="3" height="1.7" fill="#26a69a"/>
<rect x="835" y="204.1" width="1" height="22.7" fill="#26a69a"/>
<rect x="834" y="207.7" width="3" height="16.9" fill="#26a69a"/>
<rect x="840" y="202.9" width="1" height="13.7" fill="#ef5350"/>
<rect x="839" y="207.7" width="3" height="8.4" fill="#ef5350"/>
<rect x="845" y="208.9" width="1" height="9.0" fill="#26a69a"/>
<rect x="844" y="210.0" width="3" height="6.1" fill="#26a69a"/>
<rect x="850" y="208.9" width="1" height="10.7" fill="#ef5350"/>
<rect x="849" y="210.0" width="3" height="7.1" fill="#ef5350"/>
<rect x="855" y="207.7" width="1" height="11.2" fill="#26a69a"/>
<rect x="854" y="208.2" width="3" height="9.7" fill="#26a69a"/>
<rect x="860" y="196.1" width="1" height="14.3" fill="#26a69a"/>
<rect x="859" y="198.8" width="3" height="10.7" fill="#26a69a"/>
<rect x="865" y="186.3" width="1" height="19.6" fill="#ef5350"/>
<rect x="864" y="198.4" width="3" height="2.7" fill="#ef5350"/>
<rect x="870" y="185.4" width="1" height="31.6" fill="#ef5350"/>
<rect x="869" y="200.0" width="3" height="1.8" fill="#ef5350"/>
<rect x="875" y="179.6" width="1" height="24.5" fill="#26a69a"/>
<rect x="874" y="187.1" width="3" height="15.2" fill="#26a69a"/>
<rect x="880" y="176.8" width="1" height="13.0" fill="#26a69a"/>
<rect x="879" y="180.9" width="3" height="7.9" fill="#26a69a"/>
<rect x="885" y="173.8" width="1" height="16.0" fill="#26a69a"/>
<rect x="884" y="175.0" width="3" height="7.0" fill="#26a69a"/>
<rect x="890" y="152.9" width="1" height="26.2" fill="#26a69a"/>
<rect x="889" y="154.1" width="3" height="22.0" fill="#26a69a"/>
<rect x="895" y="142.9" width="1" height="21.4" fill="#ef5350"/>
<rect x="894" y="154.1" width="3" height="1.8" fill="#ef5350"/>
<rect x="900" y="152.3" width="1" height="15.2" fill="#ef5350"/>
<rect x="899" y="154.1" width="3" height="8.9" fill="#ef5350"/>
<rect x="905" y="158.0" width="1" height="8.1" fill="#ef5350"/>
<rect x="904" y="163.2" width="3" height="1.1" fill="#ef5350"/>
<rect x="910" y="154.6" width="1" height="22.6" fill="#ef5350"/>
<rect x="909" y="164.0" width="3" height="11.7" fill="#ef5350"/>
<rect x="915" y="161.5" width="1" height="14.5" fill="#26a69a"/>
<rect x="914" y="161.8" width="3" height="13.9" fill="#26a69a"/>
<rect x="920" y="155.2" width="1" height="17.5" fill="#ef5350"/>
<rect x="919" y="161.8" width="3" height="5.8" fill="#ef5350"/>
<rect x="925" y="164.8" width="1" height="18.2" fill="#ef5350"/>
<rect x="924" y="167.6" width="3" height="13.3" fill="#ef5350"/>
<rect x="930" y="177.8" width="1" height="10.1" fill="#ef5350"/>
<rect x="929" y="180.9" width="3" height="3.5" fill="#ef5350"/>
<rect x="935" y="175.0" width="1" height="9.6" fill="#26a69a"/>
<rect x="934" y="176.7" width="3" height="7.7" fill="#26a69a"/>
<rect x="940" y="160.2" width="1" height="16.8" fill="#26a69a"/>
<rect x="939" y="162.0" width="3" height="14.7" fill="#26a69a"/>
</g>
<rect x="0" y="34" width="1196" height="2" fill="#fff" shape-rendering="crispEdges"/>
<rect x="0" y="160" width="1196" height="2" fill="#fff" shape-rendering="crispEdges"/>
<line x1="0" y1="162.5" x2="1196" y2="162.5" stroke="#e8f4f2" stroke-width="1" stroke-dasharray="1 1" shape-rendering="crispEdges"/>
<g fill="rgba(24,150,150,0.78)" stroke="rgba(38,166,160,0.5)" stroke-width="0.6">
<rect x="904" y="142.1" width="3" height="28.6"/>
<rect x="909" y="164.4" width="3" height="40.4"/>
<rect x="914" y="158.6" width="3" height="22.4"/>
<rect x="919" y="161.3" width="3" height="19.2"/>
<rect x="924" y="167.3" width="3" height="26.3"/>
<rect x="929" y="178.2" width="3" height="19.6"/>
<rect x="934" y="166.6" width="3" height="17.9"/>
<rect x="939" y="162.0" width="3" height="16.0"/>
<rect x="944" y="164.6" width="3" height="18.1"/>
<rect x="949" y="154.1" width="3" height="14.3"/>
<rect x="954" y="158.1" width="3" height="13.3"/>
<rect x="959" y="153.0" width="3" height="10.8"/>
<rect x="964" y="154.1" width="3" height="11.6"/>
<rect x="969" y="159.1" width="3" height="10.5"/>
<rect x="974" y="155.0" width="3" height="12.9"/>
<rect x="979" y="158.0" width="3" height="10.8"/>
<rect x="984" y="138.0" width="3" height="22.4"/>
<rect x="989" y="124.2" width="3" height="20.5"/>
<rect x="994" y="111.3" width="3" height="18.3"/>
<rect x="999" y="112.1" width="3" height="16.7"/>
<rect x="1004" y="90.4" width="3" height="23.2"/>
<rect x="1009" y="81.1" width="3" height="19.6"/>
<rect x="1014" y="68.9" width="3" height="27.7"/>
<rect x="1019" y="86.3" width="3" height="20.5"/>
<rect x="1024" y="90.4" width="3" height="20.5"/>
<rect x="1029" y="90.4" width="3" height="17.5"/>
<rect x="1034" y="78.0" width="3" height="20.5"/>
<rect x="1039" y="94.0" width="3" height="35.7"/>
<rect x="1044" y="92.2" width="3" height="47.6"/>
<rect x="1049" y="91.2" width="3" height="64.6"/>
<rect x="1054" y="115.5" width="3" height="34.9"/>
<rect x="1059" y="100.4" width="3" height="38.4"/>
<rect x="1064" y="91.1" width="3" height="30.7"/>
<rect x="1069" y="75.4" width="3" height="25.3"/>
<rect x="1074" y="83.4" width="3" height="18.7"/>
<rect x="1079" y="90.5" width="3" height="15.2"/>
<rect x="1084" y="80.4" width="3" height="22.6"/>
<rect x="1089" y="78.3" width="3" height="16.3"/>
<rect x="1094" y="85.3" width="3" height="11.5"/>
<rect x="1099" y="82.1" width="3" height="8.4"/>
<rect x="1104" y="74.0" width="3" height="13.2"/>
<rect x="1109" y="62.1" width="3" height="16.6"/>
<rect x="1114" y="37.9" width="3" height="29.6"/>
<rect x="1119" y="33.0" width="3" height="27.7"/>
<rect x="1124" y="44.3" width="3" height="16.4"/>
<rect x="1129" y="50.4" width="3" height="16.6"/>
<rect x="1134" y="47.3" width="3" height="11.3"/>
<rect x="1139" y="41.4" width="3" height="11.8"/>
<rect x="1144" y="29.5" width="3" height="15.1"/>
<rect x="1149" y="26.4" width="3" height="11.1"/>
<rect x="1154" y="30.4" width="3" height="14.2"/>
<rect x="1159" y="29.5" width="3" height="11.9"/>
<rect x="1164" y="18.2" width="3" height="12.2"/>
<rect x="1169" y="7.1" width="3" height="12.5"/>
<rect x="1174" y="1.4" width="3" height="15.0"/>
<rect x="1179" y="0.0" width="3" height="10.7"/>
<rect x="1184" y="2.1" width="3" height="17.5"/>
<rect x="1189" y="2.1" width="3" height="14.3"/>
<rect x="1194" y="0.0" width="3" height="7.5"/>
</g>
<g>
<rect x="905" y="158.0" width="1" height="5.2" fill="#e06a68"/>
<rect x="904" y="163.2" width="3" height="1.1" fill="#c58f8f"/>
<rect x="910" y="154.6" width="1" height="9.4" fill="#e06a68"/>
<rect x="909" y="164.0" width="3" height="11.7" fill="#c58f8f"/>
<rect x="915" y="161.5" width="1" height="0.3" fill="#2fc9bd"/>
<rect x="914" y="161.8" width="3" height="13.9" fill="#2fc9bd"/>
<rect x="920" y="155.2" width="1" height="6.6" fill="#e06a68"/>
<rect x="919" y="161.8" width="3" height="5.8" fill="#c58f8f"/>
<rect x="925" y="164.8" width="1" height="2.8" fill="#e06a68"/>
<rect x="924" y="167.6" width="3" height="13.3" fill="#c58f8f"/>
<rect x="930" y="177.8" width="1" height="3.1" fill="#e06a68"/>
<rect x="929" y="180.9" width="3" height="3.5" fill="#c58f8f"/>
<rect x="935" y="175.0" width="1" height="1.7" fill="#2fc9bd"/>
<rect x="934" y="176.7" width="3" height="7.7" fill="#2fc9bd"/>
<rect x="940" y="160.2" width="1" height="1.8" fill="#2fc9bd"/>
<rect x="939" y="162.0" width="3" height="14.7" fill="#2fc9bd"/>
</g>
<path d="M366.4,208 C370.0,209.7 380.7,214.6 388,218 C395.3,221.4 402.7,225.0 410,228.4 C417.3,231.8 424.5,235.2 432,238.5 C439.5,241.8 448.2,245.4 455,248 C461.8,250.6 466.9,251.9 472.9,254 C478.8,256.1 484.8,258.4 490.7,260.5 C496.6,262.6 502.7,264.6 508.6,266.5 C514.6,268.4 520.5,270.1 526.4,271.6 C532.3,273.1 538.3,274.5 544.3,275.7 C550.2,276.9 555.7,277.9 562.1,279 C568.5,280.1 576.5,281.5 582.9,282.5 C589.3,283.5 594.5,284.4 600.7,285.2 C606.9,285.9 611.8,286.5 620,287 C628.2,287.5 641.7,287.9 650,288 C658.3,288.1 664.0,287.7 670,287.3 C676.0,286.9 680.4,286.4 685.7,285.9 C691.0,285.4 696.1,285.1 701.8,284.4 C707.4,283.7 713.6,282.7 719.6,281.6 C725.6,280.5 731.5,279.2 737.5,277.7 C743.5,276.2 749.4,274.5 755.4,272.7 C761.4,270.9 766.6,269.2 773.2,266.8 C779.8,264.4 790.0,260.2 795,258.3 C800.0,256.4 798.6,257.1 802.9,255.2 C807.2,253.2 814.8,249.7 820.7,246.6 C826.7,243.5 832.7,240.3 838.6,236.8 C844.5,233.3 850.5,229.6 856.4,225.8 C862.3,222.0 868.3,218.1 874.3,213.9 C880.2,209.7 887.0,204.6 892.1,200.8 C897.2,197.0 902.0,193.2 905,190.9 C908.0,188.7 909.2,187.9 910,187.3" fill="none" stroke="#fff02e" stroke-width="2.2" stroke-linecap="round"/>
<path d="M895,165 C895.5,165.8 896.7,167.9 898,169.5 C899.3,171.1 900.9,173.1 902.6,174.7 C904.3,176.3 906.1,178.0 908,179.3 C909.9,180.7 911.5,181.7 913.7,182.8 C915.9,183.9 918.4,185.1 921,186 C923.6,186.9 926.4,187.7 929.6,188.3 C932.8,188.9 936.9,189.4 940,189.5 C943.1,189.6 945.0,189.6 948,189 C951.0,188.4 954.9,187.4 957.9,186.2 C960.9,185.0 963.0,183.6 966,181.8 C969.0,180.0 972.3,177.8 975.7,175.6 C979.1,173.4 983.1,170.7 986.4,168.4 C989.7,166.2 993.9,163.2 995.4,162.1" fill="none" stroke="#fff02e" stroke-width="2.2" stroke-linecap="round"/>
<g fill="#ff0a0a" shape-rendering="crispEdges">
<rect x="611" y="160" width="149" height="2"/>
<rect x="611" y="286" width="149" height="2"/>
<rect x="825" y="160" width="95" height="2"/>
<rect x="684" y="161" width="2" height="126"/>
<rect x="871" y="36" width="2" height="125"/>
</g>
<g fill="none" stroke="#ff0a0a" stroke-width="2" stroke-linecap="butt">
<polyline points="674.8,171.6 685,161.6 695.2,171.6"/>
<polyline points="861.6,45.6 872,35.6 882.4,45.6"/>
</g>
<line x1="611" y1="162.5" x2="760" y2="162.5" stroke="#ffd0d0" stroke-width="1" stroke-dasharray="1 1" shape-rendering="crispEdges" opacity="0.8"/>
<line x1="825" y1="162.5" x2="920" y2="162.5" stroke="#ffd0d0" stroke-width="1" stroke-dasharray="1 1" shape-rendering="crispEdges" opacity="0.8"/>
</g>
<rect x="589" y="122" width="193" height="28.8" rx="4" fill="#7c0709"/>
<text x="598.7" y="141.2" font-size="13.6" fill="#f6ece9" stroke="#f6ece9" stroke-width="0.3" textLength="172.6" lengthAdjust="spacingAndGlyphs">852.35 (81.26%) 85235</text>
<rect x="767.3" y="-6" width="211" height="34.7" rx="4" fill="#7c0709"/>
<text x="777.6" y="18.9" font-size="13.6" fill="#f6ece9" stroke="#f6ece9" stroke-width="0.3" textLength="188.7" lengthAdjust="spacingAndGlyphs">1558.61 (81.76%) 155861</text>
<rect x="1196" y="0" width="1" height="504" fill="#6a6d78" shape-rendering="crispEdges"/>
<rect x="0" y="476" width="1196" height="1" fill="#6a6d78" shape-rendering="crispEdges"/>
<rect x="0" y="474.6" width="244" height="2.2" fill="#e9ab88"/>
<g font-size="11" font-weight="bold" fill="#d6d6e0" text-anchor="middle">
<rect x="81" y="476" width="1" height="5" fill="#6a6d78" shape-rendering="crispEdges"/>
<text x="80.7" y="492.4">2007</text>
<rect x="201" y="476" width="1" height="5" fill="#6a6d78" shape-rendering="crispEdges"/>
<text x="200.7" y="492.4">2009</text>
<rect x="321" y="476" width="1" height="5" fill="#6a6d78" shape-rendering="crispEdges"/>
<text x="320.7" y="492.4">2011</text>
<rect x="441" y="476" width="1" height="5" fill="#6a6d78" shape-rendering="crispEdges"/>
<text x="440.7" y="492.4">2013</text>
<rect x="560" y="476" width="1" height="5" fill="#6a6d78" shape-rendering="crispEdges"/>
<text x="559.7" y="492.4">2015</text>
<rect x="680" y="476" width="1" height="5" fill="#6a6d78" shape-rendering="crispEdges"/>
<text x="679.7" y="492.4">2017</text>
<rect x="800" y="476" width="1" height="5" fill="#6a6d78" shape-rendering="crispEdges"/>
<text x="799.7" y="492.4">2019</text>
<rect x="920" y="476" width="1" height="5" fill="#6a6d78" shape-rendering="crispEdges"/>
<text x="919.7" y="492.4">2021</text>
<rect x="1040" y="476" width="1" height="5" fill="#6a6d78" shape-rendering="crispEdges"/>
<text x="1039.7" y="492.4">2023</text>
<rect x="1159" y="476" width="1" height="5" fill="#6a6d78" shape-rendering="crispEdges"/>
<text x="1158.7" y="492.4">2025</text>
</g>
<g font-size="10.5" font-weight="bold" fill="#d6d6e0">
<rect x="1196" y="5" width="5" height="1" fill="#6a6d78" shape-rendering="crispEdges"/>
<text x="1206" y="9.4">4000.00</text>
<rect x="1196" y="73" width="5" height="1" fill="#6a6d78" shape-rendering="crispEdges"/>
<text x="1206" y="77.6">2900.00</text>
<rect x="1196" y="104" width="5" height="1" fill="#6a6d78" shape-rendering="crispEdges"/>
<text x="1206" y="108.6">2500.00</text>
<rect x="1196" y="141" width="5" height="1" fill="#6a6d78" shape-rendering="crispEdges"/>
<text x="1206" y="145.0">2100.00</text>
<rect x="1196" y="211" width="5" height="1" fill="#6a6d78" shape-rendering="crispEdges"/>
<text x="1206" y="215.6">1500.00</text>
<rect x="1196" y="242" width="5" height="1" fill="#6a6d78" shape-rendering="crispEdges"/>
<text x="1206" y="245.7">1300.00</text>
<rect x="1196" y="277" width="5" height="1" fill="#6a6d78" shape-rendering="crispEdges"/>
<text x="1206" y="280.8">1100.00</text>
<rect x="1196" y="310" width="5" height="1" fill="#6a6d78" shape-rendering="crispEdges"/>
<text x="1206" y="313.9">940.00</text>
<rect x="1196" y="338" width="5" height="1" fill="#6a6d78" shape-rendering="crispEdges"/>
<text x="1206" y="342.6">820.00</text>
<rect x="1196" y="373" width="5" height="1" fill="#6a6d78" shape-rendering="crispEdges"/>
<text x="1206" y="377.4">695.00</text>
<rect x="1196" y="406" width="5" height="1" fill="#6a6d78" shape-rendering="crispEdges"/>
<text x="1206" y="410.1">595.00</text>
<rect x="1196" y="436" width="5" height="1" fill="#6a6d78" shape-rendering="crispEdges"/>
<text x="1206" y="440.0">515.00</text>
<rect x="1196" y="467" width="5" height="1" fill="#6a6d78" shape-rendering="crispEdges"/>
<text x="1206" y="471.2">445.00</text>
</g>
<rect x="1212" y="7.5" width="26.5" height="15.5" rx="3" fill="#060608" stroke="#3c3e48" stroke-width="1"/>
<text x="1216.6" y="19" font-size="10.3" fill="#d6d6e0" textLength="17.6" lengthAdjust="spacingAndGlyphs">USD</text>
<path d="M1196,27 H1247.5 a2,2 0 0 1 2,2 V42 a2,2 0 0 1 -2,2 H1196 Z" fill="#fff"/>
<rect x="1196" y="35" width="5" height="1" fill="#333" shape-rendering="crispEdges"/>
<text x="1206" y="39.4" font-size="10.5" fill="#1b1b22">3465.00</text>
<path d="M1196,138.3 H1247.5 a2,2 0 0 1 2,2 V154 H1196 Z" fill="#fff"/>
<rect x="1196" y="146" width="5" height="1" fill="#333" shape-rendering="crispEdges"/>
<text x="1206" y="150.4" font-size="10.5" fill="#1b1b22">1906.38</text>
<path d="M1196,154 H1249.5 V181.6 a2,2 0 0 1 -2,2 H1196 Z" fill="#26a69a"/>
<rect x="1196" y="162" width="5" height="1" fill="#d8f3ef" shape-rendering="crispEdges"/>
<text x="1206" y="166.6" font-size="10.5" font-weight="bold" fill="#e4f7f4">1898.73</text>
<text x="1206" y="179.3" font-size="10.2" font-weight="bold" fill="#d8f3ef">5d 22h</text>
</svg></body></html>
